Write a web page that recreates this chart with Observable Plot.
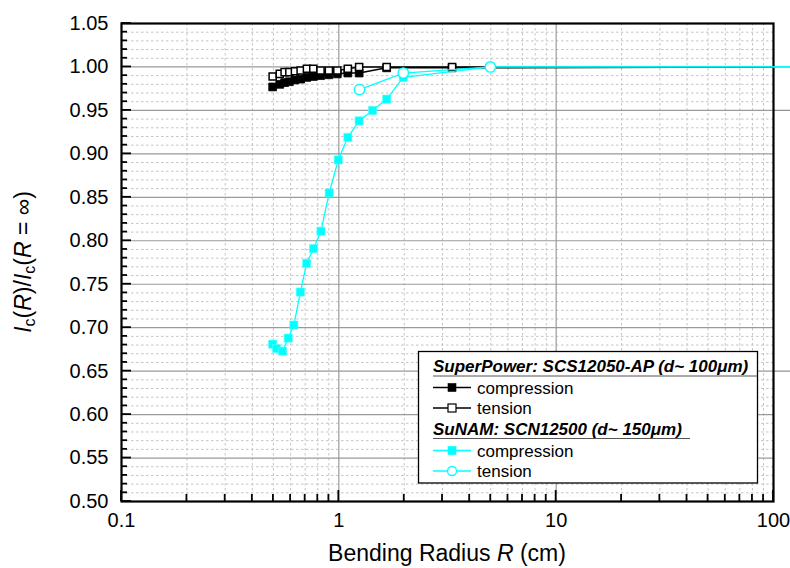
<!DOCTYPE html>
<html><head><meta charset="utf-8">
<script src="https://cdn.jsdelivr.net/npm/d3@7"></script>
<script src="https://cdn.jsdelivr.net/npm/@observablehq/plot@0.6"></script>
<style>
html,body{margin:0;padding:0;background:#fff;overflow:hidden;}
#chart svg{overflow:hidden;display:block;}
</style></head><body><div id="chart"></div>
<script>
// SuperPower SCS12050-AP
const spR      = [0.496,0.535,0.563,0.592,0.628,0.667,0.713,0.763,0.824,0.900,0.984,1.10,1.24,1.66,3.32,100];
const spComp   = [0.977,0.980,0.982,0.983,0.985,0.986,0.988,0.989,0.990,0.991,0.992,0.993,0.993,0.999,0.999,1.000];
const spTens   = [0.989,0.992,0.994,0.994,0.995,0.996,0.998,0.998,0.996,0.996,0.996,0.998,1.000,1.000,1.000,1.000];
// SuNAM SCN12500
const snCompR  = [0.496,0.517,0.551,0.585,0.621,0.665,0.711,0.765,0.827,0.903,0.994,1.10,1.24,1.43,1.66,1.98,4.98,1000];
const snComp   = [0.681,0.676,0.673,0.688,0.703,0.741,0.774,0.791,0.811,0.855,0.893,0.919,0.938,0.950,0.963,0.988,1.000,1.000];
const snTensR  = [1.245,1.98,4.98,1000];
const snTens   = [0.974,0.993,1.000,1.000];

const xMajor = [0.1,1,10,100];
const xMajorLabels = ["0.1","1","10","100"];
const xMinor = [0.2,0.3,0.4,0.5,0.6,0.7,0.8,0.9,2,3,4,5,6,7,8,9,20,30,40,50,60,70,80,90];
const yMajor = [0.50,0.55,0.60,0.65,0.70,0.75,0.80,0.85,0.90,0.95,1.00,1.05];
const yMinor = d3.range(50,105).map(v=>v/100).filter(v=>Math.round(v*100)%5!==0);
const yExtended = [0.65,0.95,1.00];

const sp = spR.map((r,i)=>({r, comp: spComp[i], tens: spTens[i]}));
const snC = snCompR.map((r,i)=>({r, v: snComp[i]}));
const snT = snTensR.map((r,i)=>({r, v: snTens[i]}));
const mk = d => d.r < 100;
const CY = "#00ffff";
const FONT = "'Liberation Sans', Arial, sans-serif";

const chart = Plot.plot({
  width: 790, height: 568,
  marginLeft: 121, marginRight: 17, marginTop: 23, marginBottom: 67,
  style: {fontFamily: FONT, fontSize: "20px", color: "black", background: "white"},
  x: {type: "log", domain: [0.1, 100]},
  y: {domain: [0.5, 1.05]},
  marks: [
    Plot.ruleY(yMinor, {stroke: "#c4c4c4", strokeDasharray: "2.5,2.5"}),
    Plot.ruleX(xMinor, {stroke: "#c4c4c4", strokeDasharray: "2.5,2.5"}),
    Plot.ruleY(yMajor, {stroke: "#9a9a9a", strokeWidth: 1.2}),
    Plot.ruleX([1,10], {stroke: "#9a9a9a", strokeWidth: 1.2}),
    Plot.ruleY(yExtended, {x1: 100, x2: 1000, stroke: "#909090", strokeWidth: 1.2}),
    Plot.axisY({ticks: yMajor, tickSize: 0, tickPadding: 13, tickFormat: d3.format(".2f"), label: null}),
    Plot.axisX({ticks: xMajor, tickSize: 0, tickPadding: 11, tickFormat: d => xMajorLabels[xMajor.indexOf(d)], label: null}),
    Plot.frame({stroke: "black", strokeWidth: 2.2}),
    // SuperPower compression
    Plot.line(sp, {x: "r", y: "comp", stroke: "black", strokeWidth: 1.6}),
    Plot.dot(sp.filter(mk), {x: "r", y: "comp", symbol: "square", r: 4.4, fill: "black", stroke: "black", strokeWidth: 0.8}),
    // SuperPower tension
    Plot.line(sp, {x: "r", y: "tens", stroke: "black", strokeWidth: 1.6}),
    Plot.dot(sp.filter(mk), {x: "r", y: "tens", symbol: "square", r: 4.0, fill: "white", stroke: "black", strokeWidth: 1.5}),
    // SuNAM compression
    Plot.line(snC, {x: "r", y: "v", stroke: CY, strokeWidth: 1.3}),
    Plot.dot(snC.filter(mk), {x: "r", y: "v", symbol: "square", r: 4.6, fill: CY, stroke: "#5ff", strokeWidth: 0.6}),
    // SuNAM tension
    Plot.line(snT, {x: "r", y: "v", stroke: CY, strokeWidth: 1.3}),
    Plot.dot(snT.filter(mk), {x: "r", y: "v", symbol: "circle", r: 5.2, fill: "white", stroke: CY, strokeWidth: 1.4})
  ]
});
document.getElementById("chart").appendChild(chart);

const svg = d3.select(chart);
const sx = chart.scale("x"), sy = chart.scale("y");
const x0 = sx.apply(0.1), y0 = sy.apply(0.5);
// inward tick marks, positioned through the library's scales
const tk = svg.append("g").attr("stroke", "#000").attr("stroke-width", 1.8);
yMajor.forEach(v => tk.append("line").attr("x1", x0).attr("x2", x0 + 10).attr("y1", sy.apply(v)).attr("y2", sy.apply(v)));
yMinor.forEach(v => tk.append("line").attr("x1", x0).attr("x2", x0 + 6).attr("y1", sy.apply(v)).attr("y2", sy.apply(v)));
xMajor.forEach(v => tk.append("line").attr("x1", sx.apply(v)).attr("x2", sx.apply(v)).attr("y1", y0).attr("y2", y0 - 11));
xMinor.forEach(v => tk.append("line").attr("x1", sx.apply(v)).attr("x2", sx.apply(v)).attr("y1", y0).attr("y2", y0 - 7));

// axis titles
const yl = svg.append("text").attr("transform", "translate(31,262) rotate(-90)")
  .attr("text-anchor", "middle").attr("font-family", FONT).attr("font-size", 23).attr("fill", "black");
yl.append("tspan").attr("font-style", "italic").text("I");
yl.append("tspan").attr("font-size", 16).attr("dy", 4).text("c");
yl.append("tspan").attr("dy", -4).text("(");
yl.append("tspan").attr("font-style", "italic").text("R");
yl.append("tspan").text(")/");
yl.append("tspan").attr("font-style", "italic").text("I");
yl.append("tspan").attr("font-size", 16).attr("dy", 4).text("c");
yl.append("tspan").attr("dy", -4).text("(");
yl.append("tspan").attr("font-style", "italic").text("R");
yl.append("tspan").text(" = ∞)");

const xl = svg.append("text").attr("x", 447).attr("y", 561)
  .attr("text-anchor", "middle").attr("font-family", FONT).attr("font-size", 23).attr("fill", "black");
xl.append("tspan").text("Bending Radius ");
xl.append("tspan").attr("font-style", "italic").text("R");
xl.append("tspan").text(" (cm)");

// legend
const lg = svg.append("g").attr("font-family", FONT).attr("fill", "black").attr("text-anchor", "start");
lg.append("rect").attr("x", 418.5).attr("y", 351.5).attr("width", 339).attr("height", 131.5)
  .attr("fill", "white").attr("stroke", "black").attr("stroke-width", 1.3);
const headers = [
  {t: "SuperPower: SCS12050-AP (d~ 100μm)", y: 372, u: 376, x2: 757},
  {t: "SuNAM: SCN12500 (d~ 150μm)", y: 434.5, u: 438.5, x2: 690}
];
headers.forEach(h => {
  lg.append("text").attr("x", 433).attr("y", h.y).attr("font-size", 17)
    .attr("font-weight", "bold").attr("font-style", "italic").text(h.t);
  lg.append("line").attr("x1", 433).attr("x2", h.x2).attr("y1", h.u).attr("y2", h.u)
    .attr("stroke", "#555").attr("stroke-width", 1);
});
const rows = [
  {y: 387.5, c: "black", sym: "sq", fill: "black", t: "compression"},
  {y: 408, c: "black", sym: "sq", fill: "white", t: "tension"},
  {y: 450.5, c: CY, sym: "sq", fill: CY, t: "compression"},
  {y: 471, c: CY, sym: "ci", fill: "white", t: "tension"}
];
rows.forEach(r => {
  lg.append("line").attr("x1", 433).attr("x2", 471).attr("y1", r.y).attr("y2", r.y)
    .attr("stroke", r.c).attr("stroke-width", 1.4);
  if (r.sym === "sq") {
    lg.append("rect").attr("x", 448).attr("y", r.y - 4).attr("width", 8).attr("height", 8)
      .attr("fill", r.fill).attr("stroke", r.c).attr("stroke-width", r.fill === "white" ? 1.2 : 0.6);
  } else {
    lg.append("circle").attr("cx", 452).attr("cy", r.y).attr("r", 4.5)
      .attr("fill", "white").attr("stroke", r.c).attr("stroke-width", 1.3);
  }
  lg.append("text").attr("x", 477).attr("y", r.y + 6).attr("font-size", 17).text(r.t);
});
</script></body></html>
